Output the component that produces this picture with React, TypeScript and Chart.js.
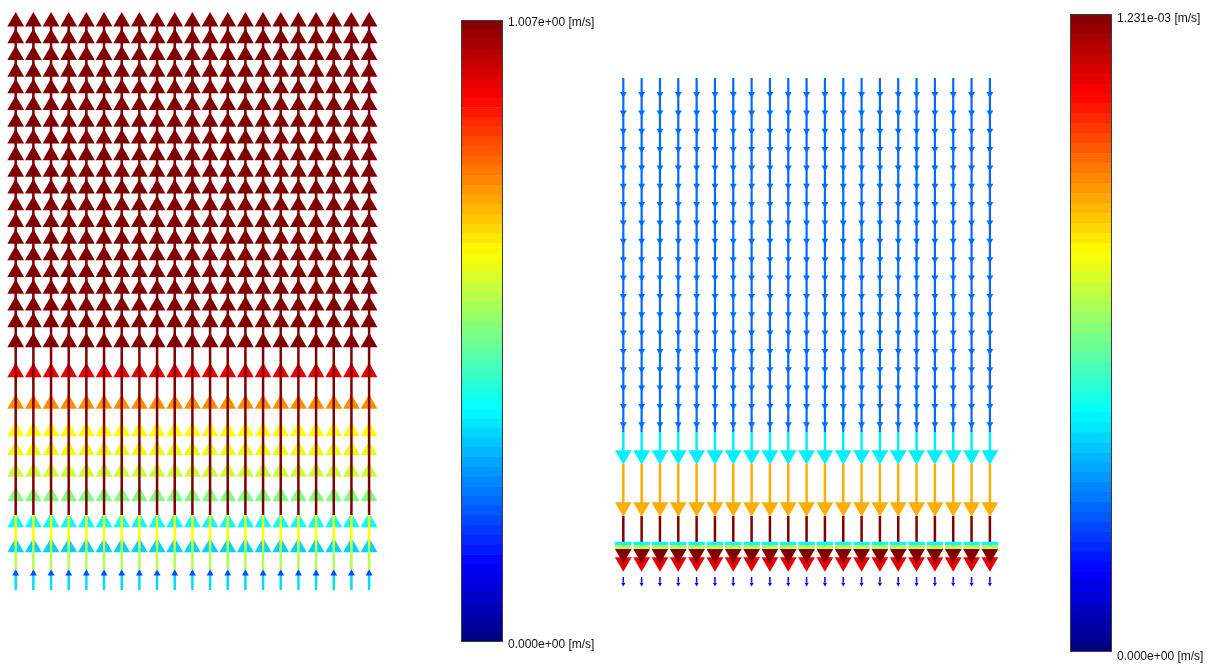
import React, { useEffect, useRef } from 'react';
import { Chart, registerables } from 'chart.js';

Chart.register(...registerables);

const FONT = "'Liberation Sans', Arial, Helvetica, sans-serif";

// Legend ranges of the two velocity plots (m/s)
const leftRangeMin = 0;
const leftRangeMax = 1.007;
const rightRangeMin = 0;
const rightRangeMax = 1.231e-3;

// Mesh columns across each section (node index)
const leftColumns = [0, 1, 2, 3, 4, 5, 6, 7, 8, 9, 10, 11, 12, 13, 14, 15, 16, 17, 18, 19, 20];
const rightColumns = [0, 1, 2, 3, 4, 5, 6, 7, 8, 9, 10, 11, 12, 13, 14, 15, 16, 17, 18, 19, 20];

// Left section (upward flow): arrow-head node heights (mm) and speeds (m/s)
const leftHeadHeights = [
  56.83, 55.16, 53.49, 51.82, 50.15, 48.48, 46.81, 45.14, 43.47, 41.8,
  40.13, 38.46, 36.79, 35.12, 33.45, 31.78, 30.11, 28.44, 26.77, 24.75,
  21.75, 18.6, 15.85, 13.95, 11.8, 9.35, 6.75, 4.25, 1.65,
];
const leftHeadSpeeds = [
  1.007, 1.007, 1.007, 1.007, 1.007, 1.007, 1.007, 1.007, 1.007, 1.007,
  1.007, 1.007, 1.007, 1.007, 1.007, 1.007, 1.007, 1.007, 1.007, 1.007,
  0.906, 0.743, 0.629, 0.604, 0.574, 0.503, 0.383, 0.332, 0.201,
];
// Left section shafts: start / end heights (mm) and speeds (m/s)
const leftShaftFrom = [56.8, 7.5, 4.5, 1.9];
const leftShaftTo = [7.5, 4.5, 1.9, 0.0];
const leftShaftSpeeds = [1.007, 0.624, 0.554, 0.342];

// Right section (downward flow): arrow-head node heights (mm) and speeds (m/s)
const rightHeadHeights = [
  49.6, 47.76, 45.93, 44.09, 42.26, 40.42, 38.59, 36.75, 34.92, 33.08,
  31.25, 29.41, 27.58, 25.74, 23.91, 22.07, 20.24, 18.4, 16.57, 13.5,
  8.3, 2.8, 3.62, 0.6,
];
const rightHeadSpeeds = [
  2.83e-4, 2.83e-4, 2.83e-4, 2.83e-4, 2.83e-4, 2.83e-4, 2.83e-4, 2.83e-4, 2.83e-4, 2.83e-4,
  2.83e-4, 2.83e-4, 2.83e-4, 2.83e-4, 2.83e-4, 2.83e-4, 2.83e-4, 2.83e-4, 2.83e-4, 4.43e-4,
  8.68e-4, 1.108e-3, 1.231e-3, 1.35e-4,
];
// Right section shafts
const rightShaftFrom = [51.2, 15.8, 12.6, 7.4, 1.3];
const rightShaftTo = [15.8, 13.8, 8.7, 4.2, 0.75];
const rightShaftSpeeds = [2.83e-4, 4.43e-4, 8.68e-4, 1.231e-3, 1.35e-4];
// Right section: tangential vectors along the outlet wall
const rightWallHeights = [4.66, 4.31];
const rightWallSpeeds = [4.62e-4, 6.77e-4];

const COLORBAR_STEPS = 64;

// Jet colour map, t in [0, 1]
function jet(t: number): string {
  const c = (v: number) => Math.round(255 * Math.min(1, Math.max(0, v)));
  return `rgb(${c(1.5 - Math.abs(4 * t - 3))},${c(1.5 - Math.abs(4 * t - 2))},${c(1.5 - Math.abs(4 * t - 1))})`;
}

function sci(v: number): string {
  return v.toExponential(3).replace(/e([+-])(\d)$/, 'e$10$2');
}

type Field = {
  columns: number[];
  min: number;
  max: number;
  rotation: number;
  headHeights: number[];
  headSpeeds: number[];
  shaftFrom: number[];
  shaftTo: number[];
  shaftSpeeds: number[];
  wallHeights: number[];
  wallSpeeds: number[];
  xMin: number;
  xMax: number;
};

const Y_MIN = -7.4;
const Y_MAX = 59.0;

function fieldConfig(f: Field): any {
  const frac = (s: number) => (s - f.min) / (f.max - f.min);
  const colorOf = (s: number) => jet(frac(s));
  const headRadius = (s: number) => (frac(s) < 0.17 ? 2.4 : frac(s) < 0.27 ? 4.0 : 9.7);

  const bigHeads: any[] = [];
  const smallHeads: any[] = [];
  f.headHeights.forEach((h, i) => {
    const s = f.headSpeeds[i];
    const r = headRadius(s);
    const ds = {
      data: f.columns.map((c) => ({ x: c, y: h })),
      pointStyle: 'triangle',
      rotation: f.rotation,
      pointRadius: r,
      backgroundColor: colorOf(s),
      borderWidth: 0,
      showLine: false,
    };
    (r > 5 ? bigHeads : smallHeads).push(ds);
  });

  const shafts = f.shaftFrom.map((from, i) => ({
    data: f.columns.flatMap((c) => [
      { x: c, y: from },
      { x: c, y: f.shaftTo[i] },
      { x: c, y: NaN },
    ]),
    showLine: true,
    pointRadius: 0,
    borderColor: colorOf(f.shaftSpeeds[i]),
    borderWidth: frac(f.shaftSpeeds[i]) < 0.17 ? 1.5 : frac(f.shaftSpeeds[i]) < 0.27 ? 2.2 : 2.5,
    borderCapStyle: 'butt',
    tension: 0,
  }));

  const walls = f.wallHeights.map((h, i) => ({
    data: f.columns.flatMap((c) => [
      { x: c - 0.45, y: h },
      { x: c + 0.45, y: h },
      { x: NaN, y: NaN },
    ]),
    showLine: true,
    pointRadius: 0,
    borderColor: colorOf(f.wallSpeeds[i]),
    borderWidth: 3.5,
    borderCapStyle: 'butt',
    tension: 0,
  }));

  const layers = [...bigHeads, ...shafts, ...walls, ...smallHeads];
  const datasets = layers.map((d, i) => ({ ...d, order: layers.length - i }));

  return {
    type: 'scatter',
    data: { datasets },
    options: {
      responsive: false,
      animation: false,
      devicePixelRatio: 1,
      events: [],
      layout: { padding: 0, autoPadding: false },
      plugins: { legend: { display: false }, tooltip: { enabled: false } },
      scales: {
        x: { type: 'linear', min: f.xMin, max: f.xMax, display: false },
        y: { type: 'linear', min: Y_MIN, max: Y_MAX, display: false },
      },
    },
  };
}

const framePlugin = {
  id: 'colorbarFrame',
  afterDatasetsDraw(chart: any) {
    const { ctx, chartArea: a } = chart;
    ctx.save();
    ctx.strokeStyle = '#3c3c3c';
    ctx.lineWidth = 1;
    ctx.strokeRect(a.left + 0.5, a.top + 0.5, a.right - a.left - 1, a.bottom - a.top - 1);
    ctx.restore();
  },
};

type Bar = {
  min: number;
  max: number;
  padTop: number;
  padBottom: number;
  axisWidth: number;
  labelGap: number;
  labelShift: number;
};

function colorbarConfig(cb: Bar): any {
  const step = (cb.max - cb.min) / COLORBAR_STEPS;
  const datasets = Array.from({ length: COLORBAR_STEPS }, (_, i) => ({
    data: [step],
    backgroundColor: jet((i + 0.5) / COLORBAR_STEPS),
    borderWidth: 0,
    barPercentage: 1,
    categoryPercentage: 1,
    stack: 'speed',
  }));
  return {
    type: 'bar',
    data: { labels: ['speed'], datasets },
    options: {
      responsive: false,
      animation: false,
      devicePixelRatio: 1,
      events: [],
      layout: { padding: { top: cb.padTop, bottom: cb.padBottom, left: 0, right: 0 }, autoPadding: false },
      plugins: { legend: { display: false }, tooltip: { enabled: false } },
      scales: {
        x: { display: false, stacked: true },
        y: {
          position: 'right',
          stacked: true,
          min: cb.min,
          max: cb.max,
          grid: { display: false, drawTicks: false },
          border: { display: false },
          ticks: {
            padding: cb.labelGap,
            labelOffset: cb.labelShift,
            color: '#111111',
            font: { family: FONT, size: 12 },
            callback: (v: number) => `${sci(Number(v))} [m/s]`,
          },
          afterBuildTicks: (s: any) => {
            s.ticks = [{ value: cb.min }, { value: cb.max }];
          },
          afterFit: (s: any) => {
            s.width = cb.axisWidth;
          },
        },
      },
    },
    plugins: [framePlugin],
  };
}

function ChartCanvas(props: { left: number; top: number; width: number; height: number; make: () => any }) {
  const ref = useRef<HTMLCanvasElement | null>(null);
  useEffect(() => {
    if (!ref.current) return;
    const chart = new Chart(ref.current, props.make());
    return () => chart.destroy();
  }, []);
  return (
    <canvas
      ref={ref}
      width={props.width}
      height={props.height}
      style={{ position: 'absolute', left: props.left, top: props.top, width: props.width, height: props.height }}
    />
  );
}

const leftField: Field = {
  columns: leftColumns,
  min: leftRangeMin,
  max: leftRangeMax,
  rotation: 0,
  headHeights: leftHeadHeights,
  headSpeeds: leftHeadSpeeds,
  shaftFrom: leftShaftFrom,
  shaftTo: leftShaftTo,
  shaftSpeeds: leftShaftSpeeds,
  wallHeights: [],
  wallSpeeds: [],
  xMin: -0.8885,
  xMax: 21.749,
};

const rightField: Field = {
  columns: rightColumns,
  min: rightRangeMin,
  max: rightRangeMax,
  rotation: 180,
  headHeights: rightHeadHeights,
  headSpeeds: rightHeadSpeeds,
  shaftFrom: rightShaftFrom,
  shaftTo: rightShaftTo,
  shaftSpeeds: rightShaftSpeeds,
  wallHeights: rightWallHeights,
  wallSpeeds: rightWallSpeeds,
  xMin: -1.2712,
  xMax: 21.097,
};

export default function App() {
  return (
    <div
      style={{
        position: 'fixed',
        left: 0,
        top: 0,
        width: 1215,
        height: 664,
        background: '#ffffff',
        overflow: 'hidden',
      }}
    >
      <ChartCanvas left={0} top={0} width={400} height={664} make={() => fieldConfig(leftField)} />
      <ChartCanvas left={600} top={0} width={410} height={664} make={() => fieldConfig(rightField)} />
      <ChartCanvas
        left={461}
        top={0}
        width={200}
        height={664}
        make={() =>
          colorbarConfig({ min: leftRangeMin, max: leftRangeMax, padTop: 20, padBottom: 22, axisWidth: 158, labelGap: 5, labelShift: 3 })
        }
      />
      <ChartCanvas
        left={1070}
        top={0}
        width={145}
        height={664}
        make={() =>
          colorbarConfig({ min: rightRangeMin, max: rightRangeMax, padTop: 14, padBottom: 11, axisWidth: 103, labelGap: 5, labelShift: 5 })
        }
      />
    </div>
  );
}
